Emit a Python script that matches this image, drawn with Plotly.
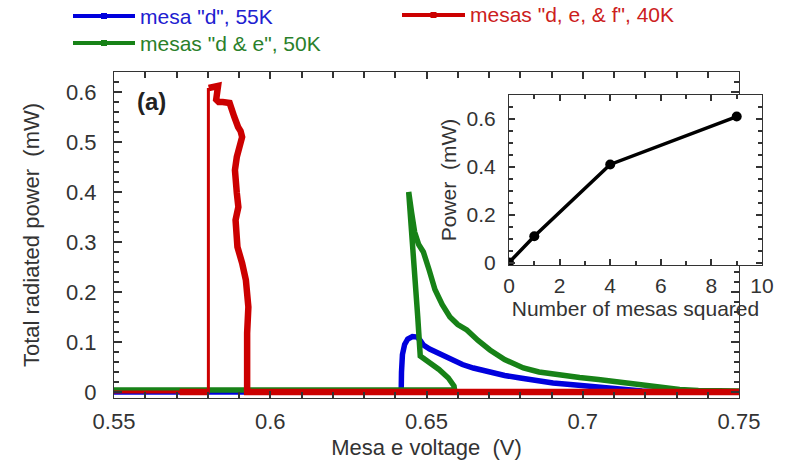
import plotly.graph_objects as go

# ---------------- data ----------------
blue_x = [0.55, 0.60, 0.6419, 0.642, 0.6423, 0.643, 0.644, 0.6455, 0.647, 0.648, 0.649, 0.651,
          0.6535, 0.656, 0.6585, 0.6615, 0.665, 0.668, 0.671, 0.675, 0.680, 0.685, 0.6905,
          0.696, 0.701, 0.706, 0.712, 0.716, 0.719, 0.73, 0.75]
blue_y = [0.0, 0.0, 0.0, 0.04, 0.075, 0.095, 0.106, 0.111, 0.11, 0.103, 0.094, 0.086,
          0.078, 0.07, 0.062, 0.055, 0.048, 0.043, 0.038, 0.033, 0.028, 0.023, 0.018,
          0.015, 0.012, 0.01, 0.007, 0.005, 0.002, 0.0, 0.0]

green_x = [0.55, 0.60, 0.645, 0.659, 0.6588, 0.657, 0.654, 0.651, 0.648, 0.6472, 0.6462, 0.6452, 0.6443,
           0.6452, 0.6462, 0.6475, 0.649, 0.6508, 0.6527, 0.655, 0.6575, 0.660, 0.6629, 0.6665,
           0.6703, 0.675, 0.681, 0.686, 0.692, 0.699, 0.705, 0.710, 0.7155,
           0.7205, 0.726, 0.731, 0.737, 0.742, 0.75]
green_y = [0.004, 0.004, 0.004, 0.004, 0.012, 0.028, 0.045, 0.058, 0.072, 0.15, 0.25, 0.33, 0.40,
           0.36, 0.32, 0.295, 0.28, 0.245, 0.205, 0.175, 0.15, 0.135, 0.124, 0.103,
           0.084, 0.065, 0.048, 0.04, 0.034, 0.029, 0.025, 0.021, 0.016,
           0.012, 0.008, 0.005, 0.003, 0.002, 0.002]

red_x = [0.75, 0.70, 0.65, 0.60, 0.5926, 0.5926, 0.5925, 0.5926, 0.593, 0.5927, 0.5922, 0.591,
         0.5895, 0.5889, 0.5898, 0.5893, 0.5887, 0.5893, 0.5899, 0.591, 0.5905, 0.5897,
         0.5885, 0.5878, 0.587, 0.5848, 0.5835, 0.5827, 0.5832, 0.5836, 0.5833, 0.5803,
         None, 0.5802, 0.571]
red_y = [0.0, 0.0, 0.0, 0.0, 0.0, 0.038, 0.064, 0.118, 0.17, 0.2, 0.224, 0.258,
         0.29, 0.344, 0.37, 0.398, 0.444, 0.47, 0.49, 0.51, 0.522, 0.53,
         0.55, 0.565, 0.578, 0.58, 0.58, 0.585, 0.60, 0.61, 0.612, 0.608,
         None, 0.0, 0.0]

red_jump_x = [0.5802, 0.5802, 0.55]
red_jump_y = [0.608, 0.0, 0.0]

inset_x = [0, 1, 4, 9]
inset_y = [0.0, 0.11, 0.41, 0.61]

legend_labels = ['mesa "d", 55K', 'mesas "d, e, & f", 40K', 'mesas "d & e", 50K']

BLUE = "#0000dd"
GREEN = "#178217"
RED = "#cc0000"
AX = "#333333"
TXT = "#333333"
FONT = "Liberation Sans, Arial"

fig = go.Figure()
fig.add_trace(go.Scatter(x=blue_x, y=blue_y, mode="lines", line=dict(color=BLUE, width=5.5),
                         showlegend=False, xaxis="x", yaxis="y"))
fig.add_trace(go.Scatter(x=green_x, y=green_y, mode="lines", line=dict(color=GREEN, width=5.5),
                         showlegend=False, xaxis="x", yaxis="y"))
fig.add_trace(go.Scatter(x=red_jump_x, y=red_jump_y, mode="lines", line=dict(color=RED, width=3),
                         showlegend=False, xaxis="x", yaxis="y"))
fig.add_trace(go.Scatter(x=red_x, y=red_y, mode="lines", line=dict(color=RED, width=6.5),
                         connectgaps=False, showlegend=False, xaxis="x", yaxis="y"))
fig.add_trace(go.Scatter(x=inset_x, y=inset_y, mode="lines+markers",
                         line=dict(color="black", width=3.5), marker=dict(color="black", size=10),
                         showlegend=False, xaxis="x2", yaxis="y2"))

W, H = 786, 460
ML, MR, MT, MB = 114, 20, 72, 62
PW, PH = W - ML - MR, H - MT - MB


def px(xp):
    return (xp - ML) / PW


def py(yp):
    return (H - MB - yp) / PH


axis_common = dict(showline=True, linecolor=AX, linewidth=1, mirror="allticks", automargin=False,
                   ticks="inside", tickcolor=AX, tickwidth=1.5, zeroline=False, showgrid=False)

fig.update_layout(
    template="none",
    width=W, height=H,
    margin=dict(l=ML, r=MR, t=MT, b=MB, autoexpand=False),
    paper_bgcolor="white", plot_bgcolor="white",
    font=dict(family=FONT, color=TXT),
    xaxis=dict(domain=[0, px(739)], range=[0.55, 0.75], dtick=0.05, ticklen=7, ticklabelstandoff=4,
               minor=dict(dtick=0.01, ticks="inside", ticklen=6, tickcolor=AX, tickwidth=1.5),
               title=dict(text="Mesa e voltage  (V)", font=dict(size=22), standoff=6),
               tickfont=dict(size=22), anchor="y", **axis_common),
    yaxis=dict(domain=[0, 1], range=[-0.012, 0.64], dtick=0.1, ticklen=8, ticklabelstandoff=12,
               minor=dict(dtick=0.02, ticks="inside", ticklen=5, tickcolor=AX, tickwidth=1.5),
               title=dict(text="Total radiated power  (mW)", font=dict(size=22), standoff=20),
               tickfont=dict(size=22), anchor="x", **axis_common),
    xaxis2=dict(domain=[px(509), px(762)], range=[0, 10], dtick=2, ticklen=6, ticklabelstandoff=2,
                minor=dict(dtick=1, ticks="inside", ticklen=4, tickcolor=AX, tickwidth=1.5),
                title=dict(text="Number of mesas squared", font=dict(size=21), standoff=0),
                tickfont=dict(size=21), anchor="y2", **axis_common),
    yaxis2=dict(domain=[py(265), py(95)], range=[-0.01, 0.7], tickvals=[0, 0.2, 0.4, 0.6],
                ticktext=["0", "0.2", "0.4", "0.6"], ticklen=6, ticklabelstandoff=8,
                minor=dict(tickvals=[0.05, 0.1, 0.15, 0.25, 0.3, 0.35, 0.45, 0.5, 0.55, 0.65, 0.7],
                           ticks="inside", ticklen=4, tickcolor=AX, tickwidth=1.5),
                title=dict(text="Power  (mW)", font=dict(size=21), standoff=4),
                tickfont=dict(size=21), anchor="x2", **axis_common),
)

# "(a)" label
fig.add_annotation(text="<b>(a)</b>", xref="paper", yref="paper", x=px(135), y=py(101),
                   xanchor="left", yanchor="middle", showarrow=False,
                   font=dict(size=24, color="#222"))

# manual legend
leg = [
    (legend_labels[0], BLUE, "#2020d0", 73, 135, 16),
    (legend_labels[1], RED, "#cc2020", 402, 465, 15),
    (legend_labels[2], GREEN, "#2a802a", 73, 135, 43),
]
for label, col, tcol, x0, x1, yy in leg:
    fig.add_shape(type="line", xref="paper", yref="paper", x0=px(x0), x1=px(x1), y0=py(yy), y1=py(yy),
                  line=dict(color=col, width=4))
    xm = (x0 + x1) / 2
    fig.add_shape(type="rect", xref="paper", yref="paper", x0=px(xm - 3), x1=px(xm + 3),
                  y0=py(yy + 3), y1=py(yy - 3), line=dict(width=0), fillcolor=col)
    fig.add_annotation(text=label, xref="paper", yref="paper", x=px(x1 + 3), y=py(yy),
                       xanchor="left", yanchor="middle", showarrow=False,
                       font=dict(size=21, color=tcol))

fig.write_html("out.html")
